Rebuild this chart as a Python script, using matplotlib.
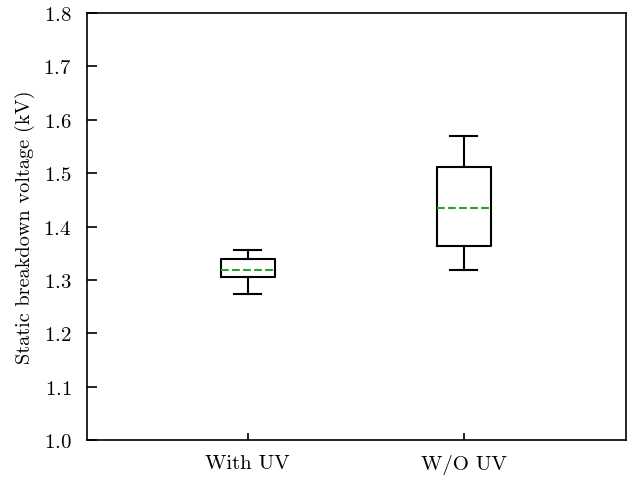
import matplotlib
matplotlib.use("Agg")
import matplotlib.pyplot as plt

plt.rcParams['font.family'] = 'serif'
plt.rcParams['font.serif'] = ['cmr10']
plt.rcParams['mathtext.fontset'] = 'cm'
plt.rcParams['axes.formatter.use_mathtext'] = True

# box statistics (kV)
labels = ['With UV', 'W/O UV']
whislo = [1.274, 1.319]
q1 = [1.306, 1.364]
med = [1.319, 1.434]
q3 = [1.340, 1.511]
whishi = [1.356, 1.569]

stats = []
for i in range(len(labels)):
    stats.append(dict(label=labels[i], whislo=whislo[i], q1=q1[i], med=med[i],
                      q3=q3[i], whishi=whishi[i], fliers=[]))

fig, ax = plt.subplots(figsize=(6.29, 4.81), dpi=100)
lw = 1.5
ax.bxp(stats, positions=[1, 2], widths=0.25, showfliers=False,
       boxprops=dict(color='black', linewidth=lw),
       whiskerprops=dict(color='black', linewidth=lw),
       capprops=dict(color='black', linewidth=lw),
       medianprops=dict(color='#2ca02c', linestyle='--', linewidth=lw))

for s in ax.spines.values():
    s.set_linewidth(1.2)

ax.set_xlim(0.255, 2.75)
ax.set_ylim(1.0, 1.8)
ax.set_ylabel('Static breakdown voltage (kV)', fontsize=14.6, labelpad=6)
ax.tick_params(axis='both', direction='in', labelsize=15, width=1.2)
ax.tick_params(axis='y', length=7, pad=11)
ax.tick_params(axis='x', length=5, pad=10)

plt.subplots_adjust(left=0.138, right=0.995, top=0.971, bottom=0.083)
plt.savefig('out.png', dpi=100)
